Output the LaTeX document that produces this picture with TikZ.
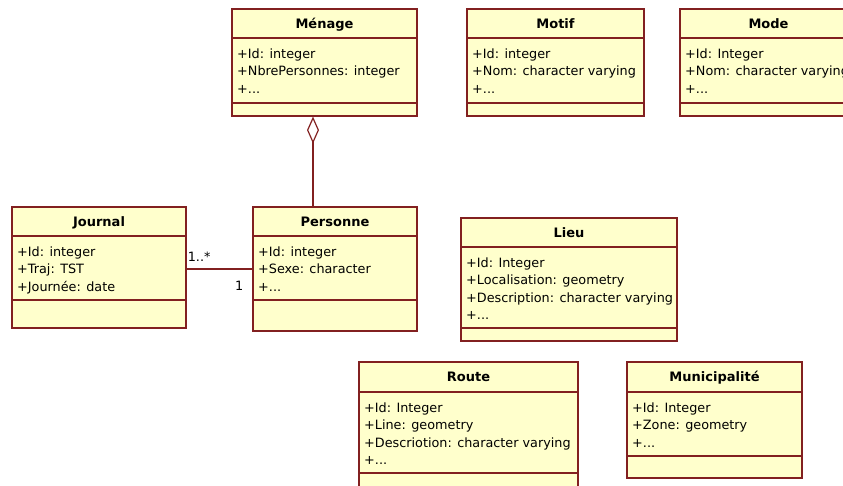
\documentclass[tikz,border=0pt]{standalone}
\usepackage{fontspec}
\setmainfont{DejaVu Sans}
\usepackage{tikz}
\usetikzlibrary{arrows.meta, calc, fit}
\definecolor{umlborder}{RGB}{130,32,32}
\definecolor{umlfill}{RGB}{255,255,204}
\tikzset{
  classbox/.style={rectangle, draw=umlborder, fill=umlfill, inner sep=0pt, line width=1.2pt},
  classline/.style={draw=umlborder, line width=1.2pt},
  classtitle/.style={font=\fontsize{13}{15}\selectfont\bfseries, inner sep=0pt, anchor=base},
  classattr/.style={font=\fontsize{12.8}{17.4}\selectfont, align=left, anchor=north west,
    inner xsep=5pt, inner ysep=10.5pt},
  mult/.style={font=\fontsize{12.8}{15}\selectfont, inner sep=0pt},
  assoc/.style={draw=umlborder, line width=1.2pt},
  aggreg/.style={assoc, -{Diamond[open, length=27pt, width=12pt]}}
}
% class box: name, x1, y1, x2, header line, separator, y2, title, attributes
\newcommand{\umlclass}[9]{%
  \node[classbox, fit={(#2,#3) (#4,#7)}] (#1) {};
  \draw[classline] (#2,#5) -- (#4,#5);
  \draw[classline] (#2,#6) -- (#4,#6);
  \node[classtitle] (#1-title) at ($($(#2,#3)!0.5!(#4,#5)$)+(0,4.9)$) {#8};
  \node[classattr] (#1-attr) at (#2,#5) {#9};
}

\begin{document}
\begin{tikzpicture}[x=1pt, y=-1pt]
  \clip (0,0) rectangle (843,485);

  % classes
  \umlclass{Menage}{232}{9}{417}{38}{103}{116}{Ménage}
    {+Id: integer\\+NbrePersonnes: integer\\+...}
  \umlclass{Motif}{467}{9}{644}{38}{103}{116}{Motif}
    {+Id: integer\\+Nom: character varying\\+...}
  \umlclass{Mode}{680}{9}{857}{38}{103}{116}{Mode}
    {+Id: Integer\\+Nom: character varying\\+...}
  \umlclass{Journal}{12}{207}{186}{236}{300}{328}{Journal}
    {+Id: integer\\+Traj: TST\\+Journée: date}
  \umlclass{Personne}{253}{207}{417}{236}{300}{331}{Personne}
    {+Id: integer\\+Sexe: character\\+...}
  \umlclass{Lieu}{461}{218}{677}{247}{328}{341}{Lieu}
    {+Id: Integer\\+Localisation: geometry\\+Description: character varying\\+...}
  \umlclass{Route}{359}{362}{578}{392}{473}{492}{Route}
    {+Id: Integer\\+Line: geometry\\+Descriotion: character varying\\+...}
  \umlclass{Municipalite}{627}{362}{802}{392}{456}{478}{Municipalité}
    {+Id: Integer\\+Zone: geometry\\+...}

  % aggregation Personne -> Ménage
  \coordinate (aggx) at (313,0);
  \draw[aggreg] (Personne.north -| aggx) -- (Menage.south -| aggx);

  % association Journal -- Personne
  \draw[assoc] (Personne.west -| Journal.east) -- (Personne.west);
  \node[mult, anchor=base west] (multJournal) at ($(Personne.west -| Journal.east)+(1,-7.5)$) {1..*};
  \node[mult, anchor=base east] (multPersonne) at ($(Personne.west)+(-9,21.5)$) {1};
\end{tikzpicture}
\end{document}
